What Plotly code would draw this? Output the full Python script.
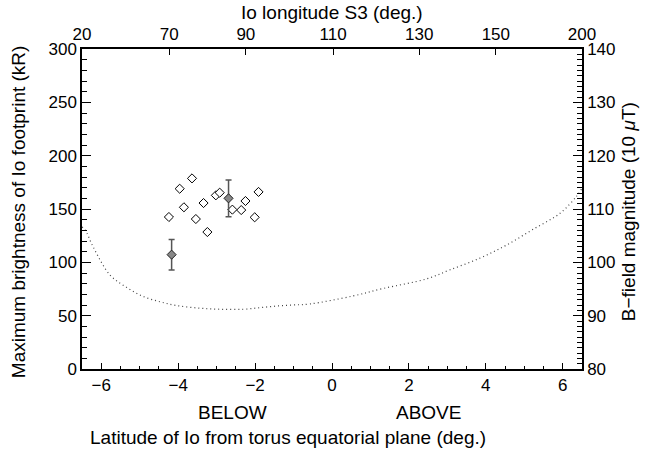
import plotly.graph_objects as go

# ---- data ----
lat_open = [-4.24, -3.96, -3.64, -3.85, -3.54, -3.24, -3.34, -3.02, -2.92, -2.59, -2.36, -2.25, -2.01, -1.91]
bright_open = [142.5, 169, 178.7, 151.6, 140.6, 128.4, 155.6, 162.8, 165.3, 149.4, 149.0, 157.5, 142.2, 166.0]

lat_err = [-4.17, -2.69]
bright_err = [107.2, 160.0]
bright_err_size = [14.3, 17.3]

lat_curve = [-6.5, -6.42, -6.21, -5.77, -5.34, -4.91, -4.47, -4.04, -3.43, -2.91, -2.31, -1.87,
             -1.44, -1.01, -0.57, 0.55, 1.33, 2.46, 3.07, 3.85, 4.54, 5.23, 5.93, 6.36, 6.5]
bfield_curve = [106.6, 106.1, 102.9, 97.6, 95.3, 93.6, 92.6, 91.9, 91.4, 91.2, 91.2, 91.5,
                91.8, 92.0, 92.2, 93.7, 95.1, 96.9, 98.6, 100.8, 103.25, 106.2, 109.2, 112.4, 113.9]

lon_ticks = [20, 70, 90, 110, 130, 150, 200]
lon_tick_lat = [-6.5, -4.23, -2.24, 0.03, 2.27, 4.26, 6.5]

FONT = "Liberation Sans"
TICKF = dict(family=FONT, size=17, color="black")
TITF = dict(family=FONT, size=19, color="black")

fig = go.Figure()

fig.add_trace(go.Scatter(
    x=lat_curve, y=bfield_curve, xaxis="x", yaxis="y2", mode="lines",
    line=dict(color="#444444", width=1.2, dash="1px,3px", shape="spline"),
    showlegend=False, hoverinfo="skip"))

fig.add_trace(go.Scatter(
    x=lat_open, y=bright_open, mode="markers",
    marker=dict(symbol="diamond", size=7, color="white", line=dict(color="black", width=1)),
    showlegend=False))

fig.add_trace(go.Scatter(
    x=lat_err, y=bright_err, mode="markers",
    error_y=dict(type="data", array=bright_err_size, visible=True, color="#555555", thickness=1.5, width=3),
    marker=dict(symbol="diamond", size=7, color="#888888", line=dict(color="#222222", width=1)),
    showlegend=False))

# invisible trace to activate top axis
fig.add_trace(go.Scatter(x=[0], y=[0], xaxis="x2", yaxis="y", mode="markers",
                         marker=dict(opacity=0), showlegend=False, hoverinfo="skip"))

axis_common = dict(showline=True, linecolor="black", linewidth=1.5, ticks="inside",
                   tickcolor="black", tickfont=TICKF, showgrid=False, zeroline=False)

fig.update_layout(
    width=645, height=449,
    margin=dict(l=82, r=63, t=49, b=80),
    plot_bgcolor="white", paper_bgcolor="white",
    xaxis=dict(range=[-6.5, 6.5], dtick=2, tick0=0, ticklen=6, tickwidth=1.2,
               minor=dict(dtick=0.5, tick0=0, ticks="inside", ticklen=3, tickcolor="black", tickwidth=1),
               **axis_common),
    xaxis2=dict(range=[-6.5, 6.5], overlaying="x", side="top", anchor="y",
                tickmode="array", tickvals=lon_tick_lat, ticktext=[str(v) for v in lon_ticks],
                ticklen=6, tickwidth=1.2, **axis_common),
    yaxis=dict(range=[0, 300], dtick=50, ticklen=9, tickwidth=1.2,
               minor=dict(dtick=10, ticks="inside", ticklen=5, tickcolor="black", tickwidth=1),
               **axis_common),
    yaxis2=dict(range=[80, 140], dtick=10, overlaying="y", side="right", anchor="x",
                ticklen=9, tickwidth=1.2,
                minor=dict(dtick=1, ticks="inside", ticklen=5, tickcolor="black", tickwidth=1),
                **axis_common),
    annotations=[
        dict(text="Maximum brightness of Io footprint (kR)", xref="paper", yref="paper",
             x=-0.128, y=0.49, textangle=-90, showarrow=False, font=TITF,
             xanchor="center", yanchor="middle"),
        dict(text="B\u2212field magnitude (10 <i>\u03bc</i>T)", xref="paper", yref="paper",
             x=1.092, y=0.49, textangle=-90, showarrow=False, font=TITF,
             xanchor="center", yanchor="middle"),
        dict(text="Io longitude S3 (deg.)", xref="paper", yref="paper", x=0.5, y=1.0,
             yshift=37, showarrow=False, font=TITF, xanchor="center", yanchor="middle"),
        dict(text="BELOW", xref="x", yref="paper", x=-2.6, y=0, yshift=-43,
             showarrow=False, font=TITF, xanchor="center", yanchor="middle"),
        dict(text="ABOVE", xref="x", yref="paper", x=2.5, y=0, yshift=-43,
             showarrow=False, font=TITF, xanchor="center", yanchor="middle"),
        dict(text="Latitude of Io from torus equatorial plane (deg.)", xref="x", yref="paper",
             x=-1.15, y=0, yshift=-68, showarrow=False, font=TITF, xanchor="center", yanchor="middle"),
    ],
)

fig.write_html("out.html")
